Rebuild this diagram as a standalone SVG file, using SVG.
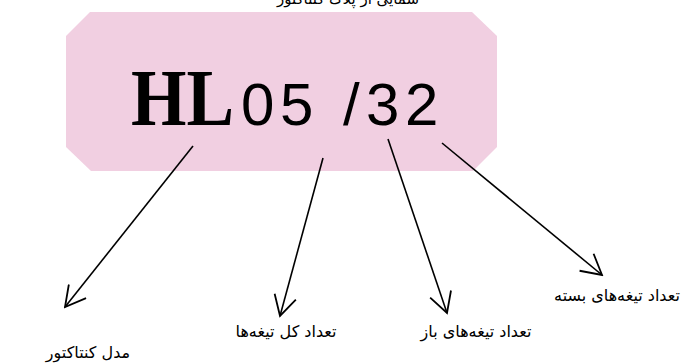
<svg xmlns="http://www.w3.org/2000/svg" width="681" height="363" viewBox="0 0 681 363">
  <style>
    .lbl { font-family: "DejaVu Sans", sans-serif; font-size: 16px; fill: #000; text-anchor: middle; direction: rtl; }
    .conn { stroke: #000; stroke-width: 1.6; fill: none; }
  </style>
  <defs>
    <marker id="vhead" markerUnits="userSpaceOnUse" markerWidth="24" markerHeight="24" viewBox="0 0 24 24" refX="22" refY="12" orient="auto">
      <path d="M2,1 L22,12 L2,23" fill="none" stroke="#000" stroke-width="1.8"/>
    </marker>
  </defs>
  <rect width="681" height="363" fill="#fff"/>
  <g id="title">
    <text class="lbl" x="348" y="4" style="font-size:15px">شمایی از پلاک کنتاکتور</text>
  </g>
  <g id="plate">
    <polygon points="90,12 472,12 497,36 497,147 473,171 91,171 66,147 66,36" fill="#F1CFE1"/>
    <text x="131" y="125" font-family="'Liberation Serif', serif" font-weight="bold" font-size="80" textLength="103" lengthAdjust="spacingAndGlyphs">HL</text>
    <text y="125" font-family="'Liberation Sans', sans-serif" font-size="60"><tspan x="241">0</tspan><tspan x="280">5</tspan><tspan x="343">/</tspan><tspan x="366">3</tspan><tspan x="405">2</tspan></text>
  </g>
  <g id="connectors">
    <line class="conn" x1="193" y1="146" x2="65" y2="307" marker-end="url(#vhead)"/>
    <line class="conn" x1="323" y1="158" x2="280" y2="316" marker-end="url(#vhead)"/>
    <line class="conn" x1="388" y1="139" x2="447" y2="313" marker-end="url(#vhead)"/>
    <line class="conn" x1="442" y1="143" x2="602" y2="275" marker-end="url(#vhead)"/>
  </g>
  <g id="label-model">
    <text class="lbl" x="88" y="358">مدل کنتاکتور</text>
  </g>
  <g id="label-total">
    <text class="lbl" x="286" y="337">تعداد کل تیغه‌ها</text>
  </g>
  <g id="label-open">
    <text class="lbl" x="476" y="337">تعداد تیغه‌های باز</text>
  </g>
  <g id="label-closed">
    <text class="lbl" x="617" y="301">تعداد تیغه‌های بسته</text>
  </g>
</svg>
